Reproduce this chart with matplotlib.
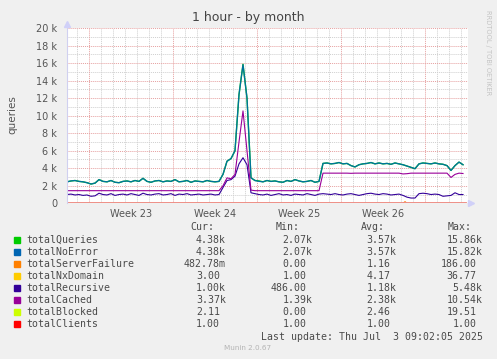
import numpy as np
import matplotlib
matplotlib.use("Agg")
import matplotlib.pyplot as plt
from matplotlib.patches import Rectangle

# ---- data (thousands of queries, one point per 8 hours) ----
queries = [2.45, 2.55, 2.6, 2.5, 2.45, 2.35, 2.2, 2.3, 2.7, 2.5,
           2.45, 2.6, 2.4, 2.35, 2.5, 2.55, 2.45, 2.6, 2.5, 2.85,
           2.5, 2.4, 2.55, 2.6, 2.45, 2.55, 2.5, 2.7, 2.45, 2.5,
           2.6, 2.4, 2.55, 2.5, 2.45, 2.6, 2.5, 2.45, 2.5,
           3.3, 4.8, 5.1, 6.0, 12.4, 15.86, 12.0, 2.9,
           2.6, 2.55, 2.45, 2.6, 2.5, 2.55, 2.45, 2.4, 2.6, 2.5,
           2.7, 2.55, 2.45, 2.5, 2.6, 2.4, 2.5,
           4.55, 4.6, 4.5, 4.55, 4.65, 4.5, 4.55, 4.3, 4.15, 4.4,
           4.5, 4.55, 4.65, 4.5, 4.6, 4.5, 4.55, 4.45, 4.6, 4.5,
           4.4, 4.25, 4.1, 3.95, 4.5, 4.6, 4.55, 4.5, 4.6, 4.5,
           4.45, 4.3, 3.75, 4.3, 4.7, 4.4]
noerror = [2.45, 2.55, 2.6, 2.5, 2.45, 2.35, 2.2, 2.3, 2.7, 2.5,
           2.45, 2.6, 2.4, 2.35, 2.5, 2.55, 2.45, 2.6, 2.5, 2.85,
           2.5, 2.4, 2.55, 2.6, 2.45, 2.55, 2.5, 2.7, 2.45, 2.5,
           2.6, 2.4, 2.55, 2.5, 2.45, 2.6, 2.5, 2.45, 2.5,
           3.3, 4.8, 5.1, 6.0, 12.4, 15.82, 12.0, 2.9,
           2.6, 2.5, 2.45, 2.6, 2.5, 2.55, 2.45, 2.4, 2.6, 2.5,
           2.7, 2.55, 2.45, 2.5, 2.6, 2.4, 2.5,
           4.55, 4.6, 4.5, 4.55, 4.65, 4.5, 4.55, 4.3, 4.15, 4.4,
           4.5, 4.55, 4.65, 4.5, 4.6, 4.5, 4.55, 4.45, 4.6, 4.5,
           4.4, 4.25, 4.1, 3.95, 4.5, 4.6, 4.55, 4.5, 4.6, 4.5,
           4.45, 4.3, 3.75, 4.3, 4.7, 4.4]
recursive = [1.0, 1.05, 0.95, 1.0, 0.9, 0.95, 0.8, 0.85, 1.15, 1.0,
             0.95, 1.1, 0.9, 1.0, 1.05, 0.95, 1.1, 1.0, 0.9, 1.15,
             1.0, 0.95, 1.05, 1.1, 0.95, 1.0, 1.1, 0.9, 1.05, 1.0,
             1.1, 0.95, 1.0, 1.05, 0.95, 1.0, 1.05, 0.95, 1.0,
             1.8, 2.6, 2.7, 3.1, 4.5, 5.2, 4.4, 1.2,
             1.1, 1.0, 0.95, 1.05, 0.9, 1.0, 1.1, 0.95, 1.0, 0.9,
             1.05, 1.0, 0.95, 1.1, 1.0, 0.9, 1.05,
             1.1, 1.05, 1.0, 1.1, 1.0, 0.95, 1.05, 1.1, 1.0, 0.9,
             1.0, 1.1, 1.15, 1.05, 1.0, 1.1, 1.05, 0.95, 1.0, 1.05,
             0.9, 0.7, 0.6, 0.6, 1.1, 1.15, 1.1, 1.0, 1.05, 1.0,
             0.8, 0.85, 0.9, 1.2, 1.0, 1.0]
cached = [1.44, 1.44, 1.44, 1.44, 1.44, 1.44, 1.44, 1.44, 1.44, 1.44,
          1.44, 1.44, 1.44, 1.44, 1.44, 1.44, 1.44, 1.44, 1.44, 1.44,
          1.44, 1.44, 1.44, 1.44, 1.44, 1.44, 1.44, 1.44, 1.44, 1.44,
          1.44, 1.44, 1.44, 1.44, 1.44, 1.44, 1.44, 1.44, 1.44,
          2.0, 2.9, 2.8, 3.3, 7.0, 10.54, 6.0, 1.5,
          1.44, 1.44, 1.44, 1.44, 1.44, 1.44, 1.44, 1.44, 1.44, 1.44,
          1.44, 1.44, 1.44, 1.44, 1.44, 1.44, 1.44,
          3.44, 3.44, 3.44, 3.44, 3.44, 3.44, 3.44, 3.42, 3.44, 3.44,
          3.44, 3.44, 3.44, 3.44, 3.44, 3.44, 3.44, 3.44, 3.44, 3.44,
          3.35, 3.38, 3.44, 3.44, 3.44, 3.44, 3.44, 3.44, 3.44, 3.44,
          3.44, 3.44, 2.95, 3.3, 3.44, 3.4]
t_days = np.arange(len(queries)) / 3.0

# small series (raw counts) on a coarse time grid
low_t = [0, 3, 6, 9, 12, 15, 18, 21, 24, 27, 30, 33.25]
nxdomain = [3, 4, 5, 3, 6, 4, 3, 5, 4, 6, 3, 3]
blocked = [2, 3, 2, 2, 4, 3, 2, 3, 2, 3, 2, 2]
clients = [1, 1, 1, 1, 1, 1, 1, 1, 1, 1, 1, 1]
servfail_t = [0, 28.0, 28.17, 28.33, 33.25]
servfail = [0, 0, 186, 0, 0]

names = ["totalQueries", "totalNoError", "totalServerFailure", "totalNxDomain",
         "totalRecursive", "totalCached", "totalBlocked", "totalClients"]
colors = ["#00CC00", "#0066B3", "#FF8000", "#FFCC00",
          "#330099", "#990099", "#CCFF00", "#FF0000"]
cur = ["4.38k", "4.38k", "482.78m", "3.00", "1.00k", "3.37k", "2.11", "1.00"]
vmin = ["2.07k", "2.07k", "0.00", "1.00", "486.00", "1.39k", "0.00", "1.00"]
avg = ["3.57k", "3.57k", "1.16", "4.17", "1.18k", "2.38k", "2.46", "1.00"]
vmax = ["15.86k", "15.82k", "186.00", "36.77", "5.48k", "10.54k", "19.51", "1.00"]

week_labels = ["Week 23", "Week 24", "Week 25", "Week 26"]
week_starts = [1.86, 8.86, 15.86, 22.86, 29.86]

# ---- figure ----
W, H = 497, 359
fig = plt.figure(figsize=(W / 100, H / 100), dpi=100, facecolor="#F0F0F0")

def fx(px): return px / W
def fy(py): return 1 - py / H

ax = fig.add_axes([fx(67), fy(203.3), fx(468) - fx(67), fy(28) - fy(203.3)])
ax.set_facecolor("white")
xmax = 401 / 12
ax.set_xlim(0, xmax)
ax.set_ylim(0, 20)
for s in ax.spines.values():
    s.set_visible(False)

# grid
dot = (0, (1, 1))
for v in range(1, 21):
    if v % 2 == 0:
        ax.axhline(v, color="#e6a0a0", lw=0.7, ls=dot, zorder=1)
    else:
        ax.axhline(v, color="#cfcfcf", lw=0.7, ls=dot, zorder=0.5)
d = 0.86
while d < xmax:
    major = any(abs(d - w) < 1e-6 for w in week_starts)
    ax.axvline(d, color="#e6a0a0" if major else "#cfcfcf", lw=0.7, ls=dot,
               zorder=1 if major else 0.5)
    d += 1

# series
ax.plot(t_days, queries, color=colors[0], lw=1.0, zorder=3)
ax.plot(t_days, noerror, color=colors[1], lw=0.9, alpha=0.9, zorder=3)
ax.plot(servfail_t, np.array(servfail) / 1000, color=colors[2], lw=0.8, zorder=2.4)
ax.plot(low_t, np.array(nxdomain) / 1000, color=colors[3], lw=0.6, zorder=2.5)
ax.plot(low_t, np.array(blocked) / 1000, color=colors[6], lw=0.6, zorder=2.5)
ax.plot(low_t, np.array(clients) / 1000, color="#ee8a8a", lw=1.3, zorder=2.8)
ax.plot(t_days, recursive, color=colors[4], lw=0.8, zorder=3)
ax.plot(t_days, cached, color=colors[5], lw=0.8, zorder=3)

# axes arrows
ax.plot([0, 0], [0, 20.3], color="#d0d0f0", lw=0.8, clip_on=False, zorder=4)
ax.plot([0], [20.5], marker="^", ms=4, color="#d0d0f8", clip_on=False, zorder=4)
ax.plot([xmax, xmax + 0.15], [0, 0], color="#d0d0f0", lw=0.8, clip_on=False, zorder=4)
ax.plot([xmax + 0.25], [0], marker=">", ms=4, color="#d0d0f8", clip_on=False, zorder=4)

# ticks
ax.set_yticks(range(0, 21, 2))
ax.set_yticklabels(["0"] + [f"{v} k" for v in range(2, 21, 2)])
centers = [w + 3.5 for w in week_starts[:4]]
ax.set_xticks(centers)
ax.set_xticklabels(week_labels)
ax.tick_params(axis="both", length=0, labelsize=7, labelcolor="#555555")
ax.tick_params(axis="y", pad=7)
ax.tick_params(axis="x", pad=4)

# texts
fig.text(fx(248), fy(18), "1 hour - by month", ha="center", va="center",
         fontsize=9, color="#444444")
fig.text(fx(12), fy(115), "queries", ha="center", va="center", rotation=90,
         fontsize=7.5, color="#555555")
fig.text(fx(488), fy(53), "RRDTOOL / TOBI OETIKER", ha="center", va="center",
         rotation=270, fontsize=4.8, color="#c4c4c4")
fig.text(fx(248), fy(347.7), "Munin 2.0.67", ha="center", va="center",
         fontsize=5.2, color="#b4b4b4")

# legend table
mono = dict(family="DejaVu Sans Mono", fontsize=7.12, color="#4a4a4a", va="center")
cw = 5.95
fig.text(fx(190.7), fy(227.3), "Cur:", ha="left", **mono)
fig.text(fx(276), fy(227.3), "Min:", ha="left", **mono)
fig.text(fx(361), fy(227.3), "Avg:", ha="left", **mono)
fig.text(fx(447.7), fy(227.3), "Max:", ha="left", **mono)

def put_val(right, y, s):
    if s[-1] not in "km":
        right -= cw
    fig.text(fx(right), fy(y), s, ha="right", **mono)

for i, name in enumerate(names):
    y = 240 + 12 * i
    fig.patches.append(Rectangle((fx(14), fy(y + 3)), fx(6), 6 / H,
                                 transform=fig.transFigure, color=colors[i]))
    fig.text(fx(26.7), fy(y), name, ha="left", **mono)
    put_val(226, y, cur[i])
    put_val(312.7, y, vmin[i])
    put_val(396.7, y, avg[i])
    put_val(482.3, y, vmax[i])

fig.text(fx(483.3), fy(336.7), "Last update: Thu Jul  3 09:02:05 2025",
         ha="right", **mono)

fig.savefig("out.png", dpi=100, facecolor=fig.get_facecolor())
